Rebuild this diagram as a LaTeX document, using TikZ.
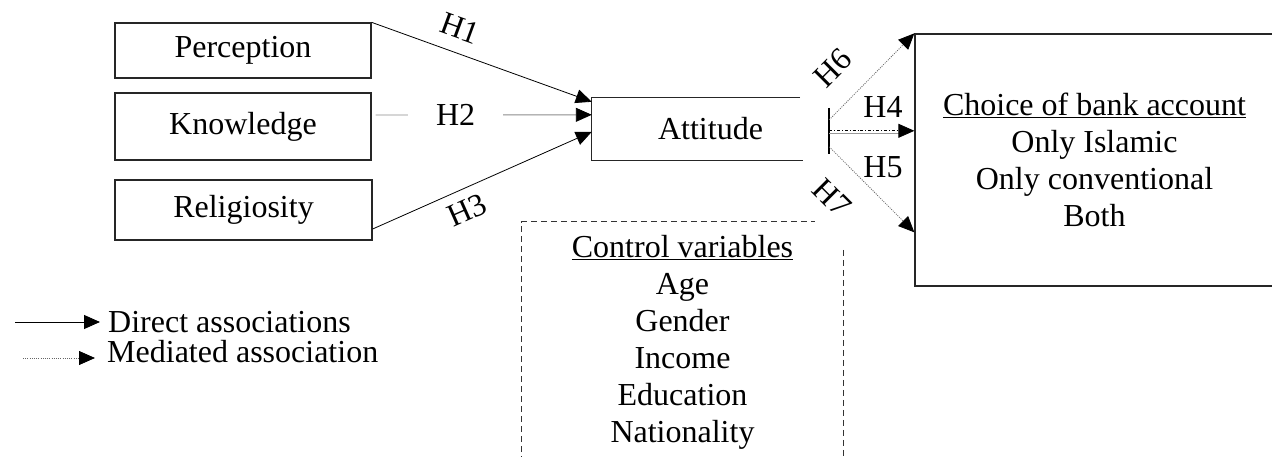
\documentclass[tikz,border=0pt]{standalone}
\usepackage{fontspec}
\setmainfont{Liberation Serif}
\usetikzlibrary{arrows.meta,calc}
\begin{document}
\begin{tikzpicture}[x=1pt,y=-1pt,
  every node/.style={font=\fontsize{32}{37}\selectfont, inner sep=0pt},
  varbox/.style={draw=black!85, line width=1.3pt, minimum width=256pt},
  tip/.style={-{Triangle[length=16pt,width=14pt,color=black]}},
  direct/.style={tip, line width=0.8pt, black},
  lightline/.style={tip, line width=0.9pt, black!45},
  mediated/.style={tip, line width=0.8pt, black!60, dash pattern=on 1pt off 1.2pt},
  ctlborder/.style={line width=1.2pt, black!80, dash pattern=on 6pt off 4pt}]
\useasboundingbox (0,0) rectangle (1272,457);

% predictors
\node[varbox, minimum height=55pt] (per) at (243,50.5) {Perception};
\node[varbox, minimum height=67pt] (kno) at (243,126.5) {Knowledge};
\node[varbox, minimum width=257pt, minimum height=60pt] (rel) at (243.5,210) {Religiosity};

% mediator, drawn open on the right
\node[minimum width=237pt, minimum height=62pt] (att) at (710.5,129) {Attitude};
\draw[line width=1.3pt, black!85] ([xshift=-29pt]att.north east) -- (att.north west)
  -- (att.south west) -- ([xshift=-26pt]att.south east);
\draw[line width=1.5pt] ([yshift=-10pt]att.north east) -- ([yshift=6pt]att.south east);

% outcome
\node[draw=black!85, line width=1.3pt, minimum width=359pt, minimum height=252pt, align=center]
  (cho) at (1094.5,160) {\underline{Choice of bank account}\\Only Islamic\\Only conventional\\Both};

% control variables
\node[minimum width=321pt, minimum height=240pt, align=center] (ctl) at (682.5,342)
  {\underline{Control variables}\\Age\\Gender\\Income\\Education\\Nationality};
\draw[ctlborder] (ctl.south west) -- (ctl.north west) -- ([xshift=-28pt]ctl.north east);
\draw[ctlborder] ([yshift=-28pt]ctl.north east) -- (ctl.south east);

% direct paths into attitude
\draw[direct] (per.north east) -- ([yshift=-4pt]att.north west);
\draw[lightline] ([xshift=4pt,yshift=11.5pt]kno.east) -- ([yshift=-17pt]att.north west)
  node[pos=0.37, fill=white, minimum width=95pt, text=black] (h2) {H2};
\draw[direct] ([yshift=-19pt]rel.east) -- ([yshift=-34pt]att.north west);

% paths from attitude to choice
\coordinate (t4a) at ([yshift=-33pt]att.north east);
\coordinate (t4b) at ([yshift=-36pt]att.north east);
\draw[mediated] ([yshift=-22pt]att.north east) -- (cho.north west);
\draw[line width=1pt, black!40] (t4b) -- ($(t4b -| cho.west)+(-8,0)$);
\draw[tip, line width=0.8pt, dash dot] (t4a) -- (t4a -| cho.west);
\draw[mediated] ([yshift=-49pt]att.north east) -- ([yshift=-199pt]cho.north west);

% hypothesis labels
\node[rotate=-20] (h1) at (460,28) {H1};
\node[rotate=24] (h3) at (467,210) {H3};
\node[rotate=45] (h6) at (833,68) {H6};
\node (h4) at (883,107) {H4};
\node (h5) at (883,167) {H5};
\node[rotate=-45] (h7) at (832,198) {H7};

% legend
\node[anchor=base west] (leg1) at (108,332) {Direct associations};
\node[anchor=base west] (leg2) at (107,362) {Mediated association};
\coordinate (l1) at (15,322);
\coordinate (l2) at (23,358);
\draw[tip, line width=0.9pt] (l1) -- ($(l1 -| leg1.west)+(-8,0)$);
\draw[mediated] (l2) -- ($(l2 -| leg2.west)+(-12,0)$);
\end{tikzpicture}
\end{document}
